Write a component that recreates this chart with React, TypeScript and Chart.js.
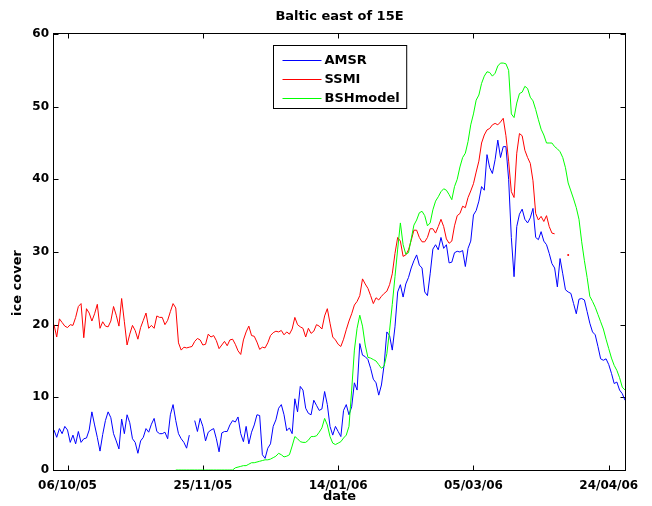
import React, { useEffect, useRef } from 'react';
import { Chart, registerables } from 'chart.js';

Chart.register(...registerables);

const CHART_TITLE = 'Baltic east of 15E';
const X_LABEL = 'date';
const Y_LABEL = 'ice cover';
const SERIES_NAMES = ['AMSR', 'SSMI', 'BSHmodel'];
const SERIES_COLORS = ['#0000ff', '#ff0000', '#00ff00'];

// x values are days counted from 06/10/05
const X_MIN_DAY = -5;
const X_MAX_DAY = 206;
const X_TICK_DAYS = [0, 50, 100, 150, 200];
const X_TICK_LABELS = ['06/10/05', '25/11/05', '14/01/06', '05/03/06', '24/04/06'];
const Y_MIN = 0;
const Y_MAX = 60;
const Y_STEP = 10;

const AMSR_FIRST_DAY = -5;
const AMSR: (number | null)[] = [
  5.5, 4.5, 5.7, 5.0, 6.0, 5.5, 3.8, 4.8, 3.6, 5.3,
  3.8, 4.3, 4.4, 5.5, 8.0, 6.2, 4.5, 2.6, 4.9, 6.8,
  8.0, 7.2, 5.0, 4.0, 2.9, 7.0, 5.0, 7.6, 6.5, 4.3,
  3.8, 2.3, 4.0, 4.5, 5.7, 5.2, 6.3, 7.1, 5.3, 5.0,
  5.0, 5.2, 4.3, 7.6, 9.0, 6.8, 5.0, 4.3, 3.8, 3.0,
  4.8, null, 6.8, 5.3, 7.1, 6.0, 4.0, 5.2, 5.5, 5.7,
  4.3, 2.5, 5.1, 5.3, 5.3, 6.2, 6.8, 6.6, 7.3, 5.0,
  3.9, 6.0, 3.6, 5.2, 6.2, 7.6, 7.5, 2.1, 1.6, 3.0,
  3.6, 6.0, 6.9, 8.5, 9.0, 7.6, 5.4, 5.8, 5.0, 9.8,
  8.0, 11.5, 11.0, 8.5, 7.8, 7.6, 9.6, 8.9, 8.2, 8.4,
  10.8, 9.0, 6.0, 4.8, 6.0, 5.3, 4.6, 8.2, 9.0, 7.6,
  8.7, 12.0, 11.0, 17.4, 15.8, 15.6, 15.2, 14.0, 12.5, 12.0,
  10.3, 11.7, 14.5, 19.0, 18.5, 16.5, 19.7, 24.5, 25.5, 23.8,
  25.6, 26.5, 27.8, 28.8, 29.6, 28.2, 27.8, 24.5, 24.0, 27.0,
  30.4, 31.0, 30.3, 32.0, 30.5, 31.0, 28.5, 28.6, 29.9, 30.1,
  30.0, 30.2, 28.0, 30.5, 31.5, 35.1, 35.7, 37.0, 39.0, 38.5,
  43.4, 41.6, 40.8, 42.7, 45.4, 43.0, 44.5, 44.5, 40.0, 32.0,
  26.6, 33.5, 35.2, 35.9, 34.5, 34.0, 34.7, 36.0, 32.0, 31.7,
  32.8, 31.5, 31.0, 29.8, 28.4, 27.8, 25.2, 29.1, 27.0, 24.8,
  24.5, 24.3, 22.9, 21.5, 23.5, 23.6, 23.4, 21.8, 20.2, 19.0,
  18.6, 17.0, 15.3, 15.1, 15.3, 14.5, 13.3, 11.9, 12.1, 11.0,
  10.5, 9.6,
];

const SSMI_FIRST_DAY = -5;
const SSMI: (number | null)[] = [
  20.0, 18.3, 20.8, 20.3, 19.8, 19.6, 20.0, 19.9, 21.0, 22.5,
  22.9, 18.2, 22.2, 21.6, 20.5, 21.5, 22.8, 19.5, 20.4, 19.8,
  19.7, 20.5, 22.5, 21.3, 19.8, 23.6, 20.4, 17.2, 18.7, 19.9,
  19.2, 18.0, 19.6, 20.6, 21.6, 19.5, 19.9, 19.5, 21.2, 21.0,
  21.0, 20.0, 20.6, 21.8, 22.9, 22.3, 17.5, 16.5, 16.9, 16.8,
  16.9, 17.0, 17.7, 18.1, 17.9, 17.2, 17.3, 18.7, 18.3, 18.5,
  17.8, 16.7, 17.2, 17.7, 17.1, 17.9, 18.0, 17.3, 16.4, 15.9,
  17.9, 19.0, 19.8, 18.5, 18.4, 17.6, 16.6, 16.9, 16.8, 17.5,
  18.5, 18.9, 19.1, 19.0, 19.2, 18.6, 19.0, 18.7, 19.4, 21.0,
  20.0, 19.7, 19.5, 18.3, 19.5, 18.8, 19.1, 20.0, 19.8, 19.4,
  21.2, 22.2, 20.2, 18.3, 17.9, 17.3, 17.0, 18.0, 19.3, 20.5,
  21.5, 22.7, 23.2, 24.0, 26.3, 25.6, 25.0, 24.0, 22.9, 23.7,
  23.4, 23.9, 24.3, 24.6, 25.5, 27.0, 29.8, 32.0, 31.5, 29.4,
  29.6, 30.3, 31.6, 33.0, 33.0, 32.0, 31.4, 31.4, 32.0, 33.2,
  33.2, 32.6, 33.5, 34.5, 33.5, 31.8, 31.2, 31.5, 33.6, 35.0,
  35.3, 36.3, 36.1, 37.5, 38.4, 39.4, 41.0, 42.5, 45.0, 46.1,
  46.8, 47.0, 47.5, 47.7, 47.5, 47.9, 48.4, 46.0, 42.5, 38.3,
  37.5, 43.6, 46.3, 46.0, 44.0, 43.0, 42.2, 39.8, 35.3, 34.4,
  34.9, 34.2, 35.0, 33.5, 32.6, 32.5, null, null, null, null,
  29.6,
];

const BSH_FIRST_DAY = 40;
const BSH: (number | null)[] = [
  0, 0, 0, 0, 0, 0, 0, 0, 0, 0,
  0, 0, 0, 0, 0, 0, 0, 0, 0, 0,
  0, 0, 0.3, 0.4, 0.5, 0.6, 0.6, 0.8, 1.0, 1.0,
  1.1, 1.2, 1.3, 1.4, 1.4, 1.5, 1.7, 1.9, 2.3, 2.1,
  1.8, 1.9, 2.1, 3.3, 4.6, 4.3, 3.9, 3.8, 3.8, 4.1,
  4.6, 4.6, 4.7, 5.2, 5.8, 7.1, 6.2, 4.6, 3.7, 3.5,
  3.7, 3.9, 4.4, 4.8, 6.0, 11.0, 16.5, 19.5, 21.3, 19.8,
  17.2, 15.5, 15.4, 15.2, 15.0, 14.5, 14.0, 14.3, 16.0, 19.2,
  22.8, 26.6, 30.4, 34.0, 31.0, 29.7, 29.9, 31.8, 33.7, 34.4,
  35.4, 35.6, 35.0, 33.6, 34.0, 35.8, 37.0, 37.6, 38.3, 38.7,
  38.5, 37.9, 37.2, 39.0, 40.0, 41.7, 43.0, 43.6, 45.2, 47.5,
  49.0, 50.9, 51.6, 53.2, 54.2, 54.8, 54.7, 54.2, 54.6, 55.6,
  56.0, 56.0, 55.9, 55.0, 49.0, 48.5, 50.5, 51.8, 52.0, 52.8,
  52.5, 51.3, 50.8, 49.6, 48.2, 46.9, 46.1, 45.0, 45.0, 45.0,
  44.5, 44.2, 43.8, 43.0, 41.6, 39.5, 38.4, 37.3, 36.1, 34.5,
  31.4, 28.8, 26.5, 23.9, 23.2, 22.4, 21.4, 20.4, 19.4, 18.0,
  16.7, 15.4, 14.4, 13.7, 12.7, 11.4, 11.0,
];

const FONT_FAMILY = '"DejaVu Sans", "Liberation Sans", Arial, sans-serif';

function toPoints(firstDay: number, values: (number | null)[]) {
  return values.map((v, i) => ({ x: firstDay + i, y: v }));
}

const framePlugin = {
  id: 'matlabFrame',
  beforeDatasetsDraw(chart: any) {
    const { ctx, chartArea } = chart;
    const { left, right, top, bottom } = chartArea;
    const xs = chart.scales.x;
    const ys = chart.scales.y;
    const tickLen = 5;
    ctx.save();
    ctx.strokeStyle = '#000';
    ctx.lineWidth = 1;
    const L = Math.round(left) - 0.5;
    const R = Math.round(right) + 0.5;
    const T = Math.round(top) - 0.5;
    const B = Math.round(bottom) + 0.5;
    ctx.strokeRect(L, T, R - L, B - T);
    ctx.beginPath();
    xs.ticks.forEach((t: any) => {
      const px = Math.round(xs.getPixelForValue(t.value)) + 0.5;
      ctx.moveTo(px, B);
      ctx.lineTo(px, B - tickLen);
      ctx.moveTo(px, T);
      ctx.lineTo(px, T + tickLen);
    });
    ys.ticks.forEach((t: any) => {
      const py = Math.round(ys.getPixelForValue(t.value)) + 0.5;
      ctx.moveTo(L, py);
      ctx.lineTo(L + tickLen, py);
      ctx.moveTo(R, py);
      ctx.lineTo(R - tickLen, py);
    });
    ctx.stroke();
    ctx.restore();
  },
  afterDatasetsDraw(chart: any) {
    const { ctx, chartArea } = chart;
    const { left, right, top, bottom } = chartArea;
    ctx.save();
    // y axis label
    ctx.font = `bold 13px ${FONT_FAMILY}`;
    ctx.fillStyle = '#000';
    ctx.textAlign = 'center';
    ctx.textBaseline = 'middle';
    ctx.translate(18, (top + bottom) / 2 + 31);
    ctx.rotate(-Math.PI / 2);
    ctx.fillText(Y_LABEL, 0, 0);
    ctx.restore();

    // legend box
    ctx.save();
    ctx.font = `bold 13px ${FONT_FAMILY}`;
    const datasets = chart.data.datasets;
    let maxW = 0;
    datasets.forEach((d: any) => {
      maxW = Math.max(maxW, ctx.measureText(d.label).width);
    });
    const padL = 9;
    const lineLen = 39;
    const gap = 3;
    const padR = 7;
    const rowH = 19;
    const boxW = padL + lineLen + gap + maxW + padR;
    const boxH = 14 + rowH * (datasets.length - 1) + 11;
    const boxLeft = Math.round((left + right) / 2 - boxW / 2) + 0.5;
    const boxTop = Math.round(top + 11) + 0.5;
    ctx.fillStyle = '#fff';
    ctx.fillRect(boxLeft, boxTop, boxW, boxH);
    ctx.strokeStyle = '#000';
    ctx.lineWidth = 1;
    ctx.strokeRect(boxLeft, boxTop, boxW, boxH);
    datasets.forEach((d: any, i: number) => {
      const cy = Math.round(boxTop + 14 + rowH * i) + 0.5;
      ctx.strokeStyle = d.borderColor;
      ctx.beginPath();
      ctx.moveTo(boxLeft + padL, cy);
      ctx.lineTo(boxLeft + padL + lineLen, cy);
      ctx.stroke();
      ctx.fillStyle = '#000';
      ctx.textAlign = 'left';
      ctx.textBaseline = 'middle';
      ctx.fillText(d.label, boxLeft + padL + lineLen + gap, cy + 0.5);
    });
    ctx.restore();
  },
};

export default function App() {
  const canvasRef = useRef<HTMLCanvasElement | null>(null);

  useEffect(() => {
    if (!canvasRef.current) return;
    const tickFont = { family: FONT_FAMILY, size: 12, weight: 'bold' as const };
    const labelFont = { family: FONT_FAMILY, size: 13, weight: 'bold' as const };
    const seriesData = [
      toPoints(AMSR_FIRST_DAY, AMSR),
      toPoints(SSMI_FIRST_DAY, SSMI),
      toPoints(BSH_FIRST_DAY, BSH),
    ];
    const drawOrder = [2, 1, 0];
    const chart = new Chart(canvasRef.current, {
      type: 'line',
      data: {
        datasets: SERIES_NAMES.map((name, i) => ({
          label: name,
          data: seriesData[i],
          borderColor: SERIES_COLORS[i],
          backgroundColor: SERIES_COLORS[i],
          borderWidth: 1,
          pointRadius: (c: any) => {
            const d = c.dataset.data;
            const k = c.dataIndex;
            const prev = k > 0 ? d[k - 1].y : null;
            const next = k < d.length - 1 ? d[k + 1].y : null;
            return d[k].y != null && prev == null && next == null ? 1 : 0;
          },
          pointBorderWidth: 0,
          pointHoverRadius: 0,
          tension: 0,
          fill: false,
          spanGaps: false,
          order: drawOrder[i],
        })),
      },
      options: {
        animation: false,
        responsive: false,
        maintainAspectRatio: false,
        parsing: false as any,
        normalized: true,
        layout: { padding: { left: 0, right: 27, top: 0, bottom: 0 } },
        events: [],
        plugins: {
          legend: { display: false },
          tooltip: { enabled: false },
          title: {
            display: true,
            text: CHART_TITLE,
            color: '#000',
            font: labelFont,
            fullSize: false,
            padding: { top: 9, bottom: 9.4 },
          },
        },
        scales: {
          x: {
            type: 'linear',
            min: X_MIN_DAY,
            max: X_MAX_DAY,
            afterBuildTicks: (s: any) => {
              s.ticks = X_TICK_DAYS.map((v) => ({ value: v }));
            },
            afterFit: (s: any) => {
              s.height = 36;
            },
            ticks: {
              autoSkip: false,
              maxRotation: 0,
              minRotation: 0,
              padding: 9,
              color: '#000',
              font: tickFont,
              callback: (_v: any, idx: number) => X_TICK_LABELS[idx],
            },
            grid: { display: false, drawTicks: false },
            border: { display: false },
            title: {
              display: true,
              text: X_LABEL,
              color: '#000',
              font: labelFont,
              padding: { top: 0, bottom: 2 },
            },
          },
          y: {
            type: 'linear',
            min: Y_MIN,
            max: Y_MAX,
            afterFit: (s: any) => {
              s.width = 54;
            },
            ticks: {
              stepSize: Y_STEP,
              padding: 5,
              color: '#000',
              font: tickFont,
            },
            grid: { display: false, drawTicks: false },
            border: { display: false },
          },
        },
      },
      plugins: [framePlugin],
    });
    return () => chart.destroy();
  }, []);

  return (
    <div style={{ position: 'fixed', left: 0, top: 0, width: 652, height: 506, background: '#fff' }}>
      <canvas ref={canvasRef} width={652} height={506} style={{ display: 'block' }} />
    </div>
  );
}
